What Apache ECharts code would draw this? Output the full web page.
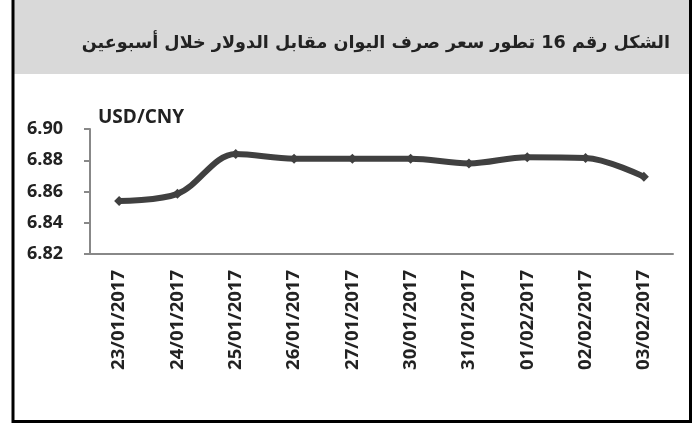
<!DOCTYPE html>
<html>
<head>
<meta charset="utf-8">
<script src="https://cdn.jsdelivr.net/npm/echarts@6/dist/echarts.min.js"></script>
<style>
  html, body { margin: 0; padding: 0; background: #fff; }
  #chart { width: 694px; height: 423px; }
</style>
</head>
<body>
<div id="chart"></div>
<script>
// data
var dates = ['23/01/2017', '24/01/2017', '25/01/2017', '26/01/2017', '27/01/2017',
             '30/01/2017', '31/01/2017', '01/02/2017', '02/02/2017', '03/02/2017'];
var usdCny = [6.854, 6.8585, 6.884, 6.881, 6.881, 6.881, 6.878, 6.882, 6.8815, 6.8695];
var yTicks = [6.82, 6.84, 6.86, 6.88, 6.90];

var titleText = 'الشكل رقم 16 تطور سعر صرف اليوان مقابل الدولار خلال أسبوعين';
var latin = 'Open Sans';

var myChart = echarts.init(document.getElementById('chart'));
var option = {
    animation: false,
    backgroundColor: '#fff',
    graphic: [
        { type: 'rect', shape: { x: 13, y: 0, width: 677, height: 74 }, style: { fill: '#d9d9d9' }, z: -10 },
        { type: 'rect', shape: { x: 13, y: -5, width: 677.5, height: 426.5 },
          style: { fill: 'none', stroke: '#000', lineWidth: 3 }, z: 100 }
    ],
    title: {
        text: titleText,
        right: 19,
        top: 29,
        textStyle: { fontSize: 17.6, fontWeight: 'bold', color: '#222', fontFamily: 'DejaVu Sans' }
    },
    grid: { left: 90, right: 21, top: 129, bottom: 169, containLabel: false },
    xAxis: {
        type: 'category',
        data: dates,
        axisLine: { lineStyle: { color: '#888', width: 2 } },
        axisTick: { length: 6, lineStyle: { color: '#888', width: 2 } },
        axisLabel: {
            rotate: 90, margin: 16, fontSize: 18.5, fontWeight: 'bold', color: '#222',
            fontFamily: latin, interval: 0
        }
    },
    yAxis: {
        type: 'value',
        min: yTicks[0],
        max: yTicks[yTicks.length - 1],
        interval: 0.02,
        name: 'USD/CNY',
        nameLocation: 'end',
        nameGap: 2,
        nameTextStyle: { align: 'left', padding: [0, 0, 0, 8], fontSize: 19, fontWeight: 'bold', color: '#222',
                         fontFamily: latin },
        axisLine: { show: true, lineStyle: { color: '#888', width: 2 } },
        axisTick: { show: true, length: 6, lineStyle: { color: '#888', width: 2 } },
        splitLine: { show: false },
        axisLabel: {
            margin: 27, fontSize: 18, fontWeight: 'bold', color: '#222', fontFamily: latin,
            formatter: function (v) { return v.toFixed(2); }
        }
    },
    series: [{
        type: 'line',
        data: usdCny,
        smooth: 0.35,
        symbol: 'diamond',
        symbolSize: 10,
        lineStyle: { color: '#404040', width: 6 },
        itemStyle: { color: '#404040' }
    }]
};
myChart.setOption(option);
</script>
</body>
</html>
